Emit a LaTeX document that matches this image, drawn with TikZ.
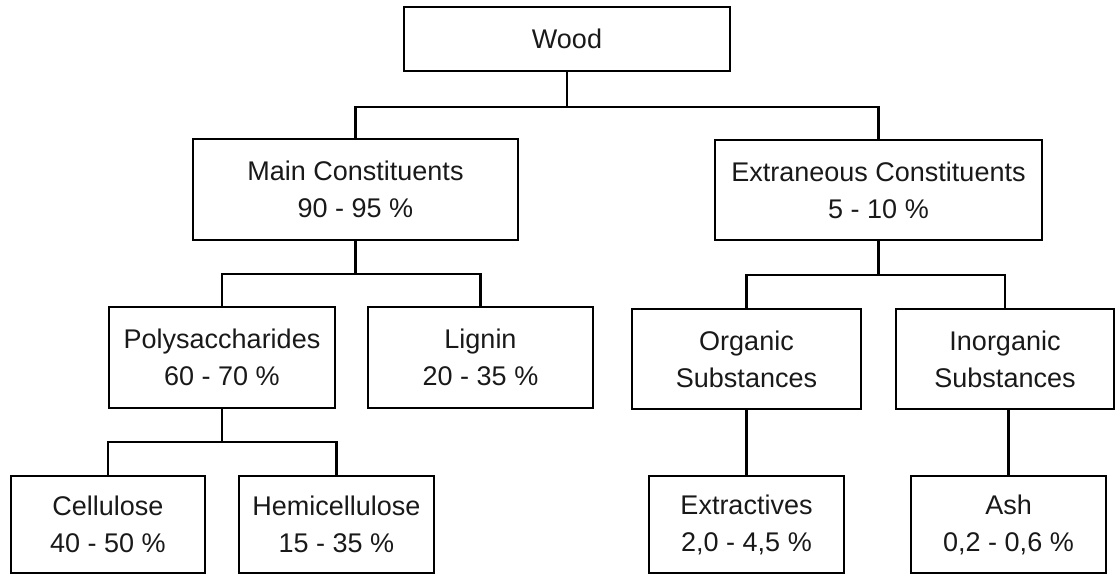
\documentclass[tikz,border=0pt]{standalone}
\usepackage{fontspec}
\setmainfont{Liberation Sans}
\usepackage{tikz}

\begin{document}
\begin{tikzpicture}[x=1pt,y=-1pt,
	box/.style={draw,line width=2.2pt,align=center,inner sep=0pt,text=black!90,
		font=\fontsize{27}{37}\selectfont},
	link/.style={line width=2.2pt}]
	\useasboundingbox (0,0) rectangle (1116,575);
	\node[box,minimum width=326pt,minimum height=64pt] (wood) at (567,39) {Wood};
	\node[box,minimum width=325pt,minimum height=101pt] (main) at (355.5,189.5) {Main Constituents\\90 - 95 \%};
	\node[box,minimum width=327pt,minimum height=100pt] (extra) at (878.5,190) {Extraneous Constituents\\5 - 10 \%};
	\node[box,minimum width=226pt,minimum height=101pt] (poly) at (222,357.5) {Polysaccharides\\60 - 70 \%};
	\node[box,minimum width=225pt,minimum height=101pt] (lignin) at (480.5,357.5) {Lignin\\20 - 35 \%};
	\node[box,minimum width=229pt,minimum height=100pt] (organic) at (746.5,359) {Organic\\Substances};
	\node[box,minimum width=218pt,minimum height=100pt] (inorg) at (1005,359) {Inorganic\\Substances};
	\node[box,minimum width=194pt,minimum height=97pt] (cell) at (108,524.5) {Cellulose\\40 - 50 \%};
	\node[box,minimum width=195pt,minimum height=97pt] (hemi) at (336.5,524.5) {Hemicellulose\\15 - 35 \%};
	\node[box,minimum width=195pt,minimum height=97pt] (extract) at (746.5,524.5) {Extractives\\2,0 - 4,5 \%};
	\node[box,minimum width=195pt,minimum height=97pt] (ash) at (1008.5,524.5) {Ash\\0,2 - 0,6 \%};
	% tree connectors
	\draw[link] (wood.south) -- ++(0,35) coordinate (wb);
	\draw[link] (main.north) |- (wb) -| (extra.north);
	\draw[link] (main.south) -- ++(0,33) coordinate (mb);
	\draw[link] (poly.north) |- (mb) -| (lignin.north);
	\draw[link] (extra.south) -- ++(0,34) coordinate (eb);
	\draw[link] (organic.north) |- (eb) -| (inorg.north);
	\draw[link] (poly.south) -- ++(0,33) coordinate (pb);
	\draw[link] (cell.north) |- (pb) -| (hemi.north);
	\draw[link] (organic.south) -- (extract.north);
	\draw[link] (ash.north) -- (ash.north |- inorg.south);
\end{tikzpicture}
\end{document}
